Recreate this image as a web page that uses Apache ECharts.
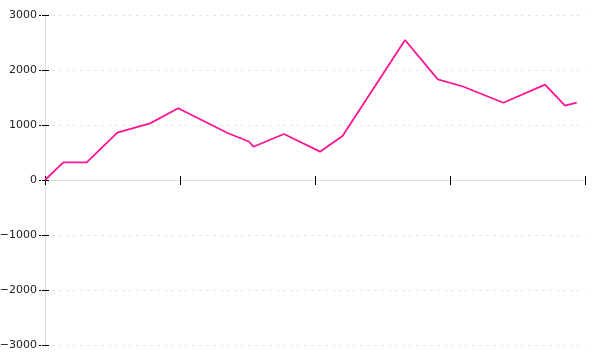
<!DOCTYPE html>
<html><head><meta charset="utf-8">
<script src="https://cdn.jsdelivr.net/npm/echarts@6/dist/echarts.min.js"></script>
<style>html,body{margin:0;padding:0;background:#fff}#c{width:600px;height:360px}</style>
</head><body><div id="c"></div>
<script>
const xValues = [0, 1.36, 3.09, 5.36, 7.78, 9.87, 13.56, 15.1, 15.44, 17.7, 20.37, 22.04, 26.67, 29.1, 30.96, 33.95, 37.04, 38.52, 39.39];
const yValues = [0, 322, 322, 860, 1030, 1304, 850, 700, 605, 836, 515, 800, 2545, 1830, 1700, 1405, 1733, 1351, 1405];
const yTicks = [-3000, -2000, -1000, 0, 1000, 2000, 3000];

const data = xValues.map((x, i) => [x, yValues[i]]);
const chart = echarts.init(document.getElementById('c'), null, {renderer: 'canvas'});
const yBase = {
  type: 'value', min: yTicks[0], max: yTicks[yTicks.length - 1], interval: 1000,
  position: 'left'
};
chart.setOption({
  animation: false,
  grid: {left: 45, right: 15, top: 15, bottom: 15, containLabel: false, outerBoundsMode: 'none'},
  xAxis: [{
    type: 'value', min: 0, max: 40, interval: 10,
    axisLine: {onZero: true, lineStyle: {color: '#dddddd', width: 1}},
    axisTick: {show: true, length: 5, lineStyle: {color: '#000'}},
    axisLabel: {show: false},
    splitLine: {show: false}
  }, {
    type: 'value', min: 0, max: 40, interval: 10, position: 'bottom',
    axisLine: {onZero: true, show: false},
    axisTick: {show: true, inside: true, length: 4, lineStyle: {color: '#000'}},
    axisLabel: {show: false},
    splitLine: {show: false}
  }],
  yAxis: [Object.assign({}, yBase, {
    axisLine: {show: true, onZero: false, lineStyle: {color: '#dddddd'}},
    axisTick: {show: true, length: 6, lineStyle: {color: '#000', type: [3, 1]}},
    axisLabel: {
      margin: 8, color: '#222', fontFamily: 'DejaVu Sans', fontSize: 11,
      formatter: v => String(v).replace('-', '\u2212')
    },
    splitLine: {show: true, lineStyle: {color: '#e6e6e6', type: [3, 4]}}
  }), Object.assign({}, yBase, {
    offset: 0,
    axisLine: {show: false, onZero: false},
    axisTick: {show: true, inside: true, length: 4, lineStyle: {color: '#000'}},
    axisLabel: {show: false},
    splitLine: {show: false}
  })],
  series: [{
    type: 'line', data: data, xAxisIndex: 0, yAxisIndex: 0,
    showSymbol: false, symbol: 'none',
    lineStyle: {color: '#ff1493', width: 1.8}
  }]
});
</script></body></html>
